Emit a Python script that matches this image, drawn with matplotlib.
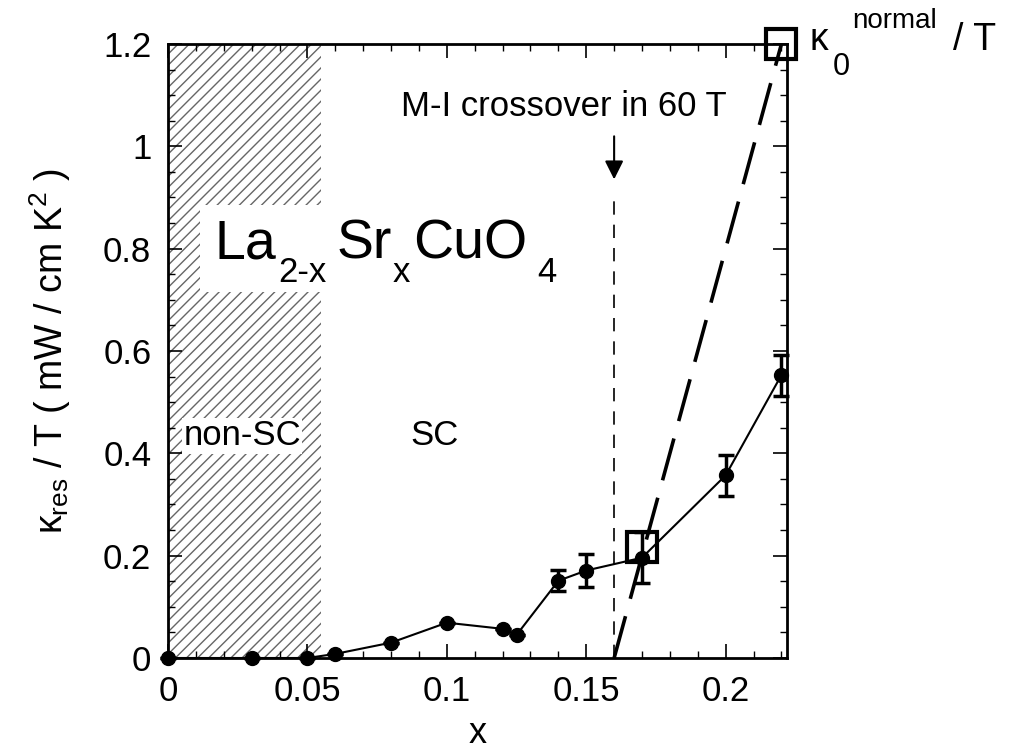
import matplotlib
matplotlib.use("Agg")
import matplotlib.pyplot as plt
from matplotlib.patches import Rectangle
from matplotlib.ticker import MultipleLocator

plt.rcParams['font.family'] = ['Liberation Sans', 'DejaVu Sans']
plt.rcParams['mathtext.fontset'] = 'custom'
plt.rcParams['mathtext.rm'] = 'Liberation Sans'
plt.rcParams['mathtext.it'] = 'Liberation Sans'
plt.rcParams['hatch.color'] = '#666666'
plt.rcParams['hatch.linewidth'] = 1.0

# data
x_doping = [0.0, 0.03, 0.05, 0.06, 0.08, 0.10, 0.12, 0.125, 0.14, 0.15, 0.17, 0.20, 0.22]
kappa_res = [0.0, 0.0, 0.0, 0.008, 0.030, 0.069, 0.057, 0.045, 0.151, 0.171, 0.196, 0.357, 0.553]
kappa_err = [0, 0, 0, 0, 0, 0, 0, 0, 0.021, 0.033, 0.05, 0.04, 0.04]
square_x = [0.17, 0.22]
square_y = [0.216, 1.2]
wf_x = [0.16, 0.22]
wf_y = [0.0, 1.2]
x_crossover = 0.16
x_nonsc = 0.055

fig = plt.figure(figsize=(10.09, 7.52), dpi=100)
ax = fig.add_axes([168/1009, 0.125, 619/1009, 0.8165])

ax.axvspan(0, x_nonsc, facecolor='none', edgecolor='#666666', hatch='///', lw=0)

ax.plot(wf_x, wf_y, color='black', lw=2.6, dashes=(12, 5), zorder=3)
ax.plot([x_crossover, x_crossover], [0, 0.91], color='black', lw=1.2, dashes=(8, 6), zorder=3)

ax.errorbar(x_doping, kappa_res, yerr=kappa_err, fmt='-o', color='black', ms=10, lw=1.5,
            elinewidth=2.5, capsize=5.5, capthick=2.5, clip_on=False, zorder=5)
ax.plot(square_x, square_y, 's', ms=22, mfc='none', mec='black', mew=3, clip_on=False, zorder=6)

ax.annotate('', xy=(x_crossover, 0.93), xytext=(x_crossover, 1.025),
            arrowprops=dict(arrowstyle='-|>', color='black', lw=1.5, mutation_scale=28))
ax.text(0.1419, 1.059, 'M-I crossover in 60 T', fontsize=25, ha='center', va='baseline')

# compound name, with white box over the hatching
ax.add_patch(Rectangle((0.0115, 0.715), 0.12, 0.17, facecolor='white', edgecolor='none', zorder=2))
ax.text(0.0168, 0.7817, 'La', fontsize=40, va='baseline', zorder=4)
ax.text(0.0394, 0.7348, '2-x', fontsize=25, va='baseline', zorder=4)
ax.text(0.0606, 0.7817, 'Sr', fontsize=40, va='baseline', zorder=4)
ax.text(0.0806, 0.7348, 'x', fontsize=25, va='baseline', zorder=4)
ax.text(0.0878, 0.7817, 'CuO', fontsize=40, va='baseline', zorder=4)
ax.text(0.1323, 0.7348, '4', fontsize=25, va='baseline', zorder=4)

ax.text(0.0055, 0.416, 'non-SC', fontsize=25, ha='left', va='baseline',
        bbox=dict(facecolor='white', edgecolor='none', pad=1), zorder=4)
ax.text(0.0868, 0.416, 'SC', fontsize=25, ha='left', va='baseline')

# kappa_0 normal / T label right of the axes
fig.text(810/1009, 1 - 50/752, 'κ', fontsize=27, va='baseline')
fig.text(833/1009, 1 - 75/752, '0', fontsize=22, va='baseline')
fig.text(852/1009, 1 - 28/752, 'normal', fontsize=20, va='baseline')
fig.text(953/1009, 1 - 50/752, '/ T', fontsize=27, va='baseline')

ax.set_xlim(0, 0.222)
ax.set_ylim(0, 1.2)
ax.xaxis.set_minor_locator(MultipleLocator(0.01))
ax.yaxis.set_minor_locator(MultipleLocator(0.05))
ax.set_xticks([0, 0.05, 0.1, 0.15, 0.2])
ax.set_xticklabels(['0', '0.05', '0.1', '0.15', '0.2'])
ax.set_yticks([0, 0.2, 0.4, 0.6, 0.8, 1.0, 1.2])
ax.set_yticklabels(['0', '0.2', '0.4', '0.6', '0.8', '1', '1.2'])
ax.tick_params(which='both', direction='in', top=True, right=True, labelsize=25, pad=12)
ax.tick_params(which='major', length=10, width=1.2)
ax.tick_params(which='minor', length=5, width=1.0)
for s in ax.spines.values():
    s.set_linewidth(2)

ax.set_xlabel('x', fontsize=26, labelpad=6)
ax.set_ylabel(r'$\kappa_{\mathrm{res}}$ / T ( mW / cm K$^2$ )', fontsize=27, labelpad=22)

fig.savefig('out.png', dpi=100)
